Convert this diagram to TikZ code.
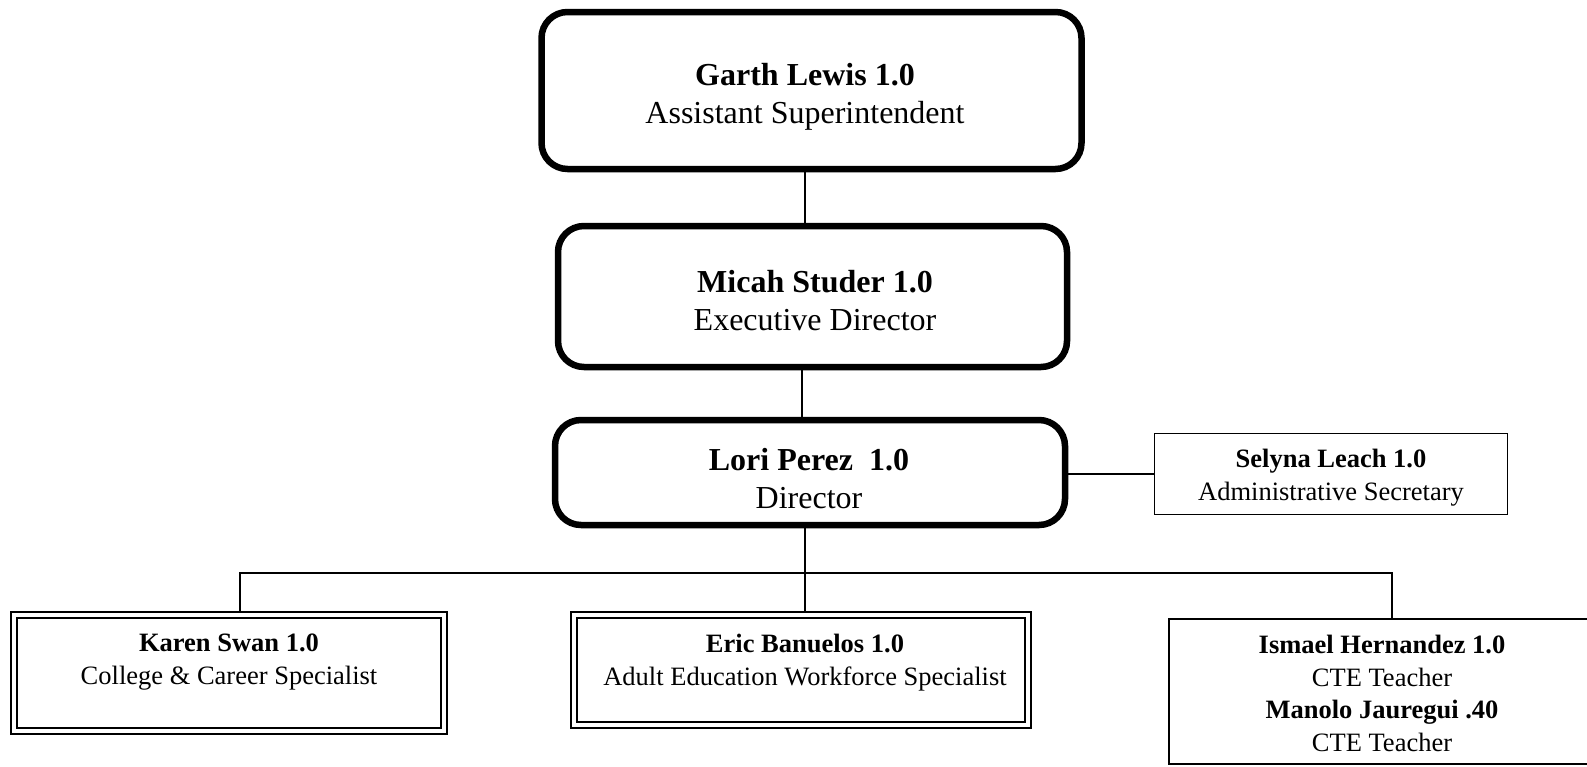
\documentclass[tikz,border=0pt]{standalone}
\usepackage{fontspec}
\setmainfont{Liberation Serif}
\usetikzlibrary{backgrounds}
\begin{document}
\begin{tikzpicture}[x=1pt,y=-1pt,
  bigbox/.style={draw, line width=6.5pt, rounded corners=26pt, fill=white, inner sep=0pt},
  plainbox/.style={draw, line width=1.5pt, fill=white, inner sep=0pt},
  dblbox/.style={draw, line width=1.7pt, double=white, double distance=4.3pt, inner sep=0pt},
  conn/.style={line width=1.5pt},
  bigtxt/.style={font=\fontsize{32}{38}\selectfont, align=center, inner sep=0pt},
  smtxt/.style={font=\fontsize{26.5}{32.5}\selectfont, align=center, inner sep=0pt}]
\useasboundingbox (0,0) rectangle (1587,766);

% boxes
\node[bigbox, minimum width=540pt, minimum height=157pt] (garth) at (811.5,90.5) {};
\node[bigbox, minimum width=509pt, minimum height=141pt] (micah) at (812.5,296.5) {};
\node[bigbox, minimum width=510pt, minimum height=105pt] (lori) at (810,472.5) {};
\node[plainbox, minimum width=353pt, minimum height=81pt] (selyna) at (1331,474) {};
\node[dblbox, minimum width=430.5pt, minimum height=116.5pt] (karen) at (229,673) {};
\node[dblbox, minimum width=454.5pt, minimum height=110.5pt] (eric) at (801,670) {};
\node[plainbox, minimum width=431pt, minimum height=145pt] (ismael) at (1384.5,691.5) {};

% texts
\node[bigtxt] (garthT) at (805,96.5) {\textbf{Garth Lewis 1.0}\\Assistant Superintendent};
\node[bigtxt] (micahT) at (815,300.5) {\textbf{Micah Studer 1.0}\\Executive Director};
\node[bigtxt] (loriT) at (809,479) {\textbf{Lori Perez\ \ 1.0}\\Director};
\node[smtxt] (selynaT) at (1331,477.5) {\textbf{Selyna Leach 1.0}\\Administrative Secretary};
\node[smtxt] (karenT) at (229,662) {\textbf{Karen Swan 1.0}\\College \& Career Specialist};
\node[smtxt] (ericT) at (805,662.5) {\textbf{Eric Banuelos 1.0}\\Adult Education Workforce Specialist};
\node[smtxt] (ismaelT) at (1382,693.5) {\textbf{Ismael Hernandez 1.0}\\CTE Teacher\\\textbf{Manolo Jauregui .40}\\CTE Teacher};

% connectors
\coordinate (gx) at (805,0);
\coordinate (mx) at (802,0);
\coordinate (kx) at (240,573);
\coordinate (ex) at (805,573);
\coordinate (ix) at (1392,573);
\begin{scope}[on background layer]
\draw[conn] (gx |- garth.south) -- (gx |- micah.north);
\draw[conn] (mx |- micah.south) -- (mx |- lori.north);
\draw[conn] (lori.east |- selyna.west) -- (selyna.west);
\draw[conn] (ex |- lori.south) -- (ex |- eric.north);
\draw[conn] (kx |- karen.north) -- (kx) -- (ix) -- (ix |- ismael.north);
\end{scope}
\end{tikzpicture}
\end{document}
